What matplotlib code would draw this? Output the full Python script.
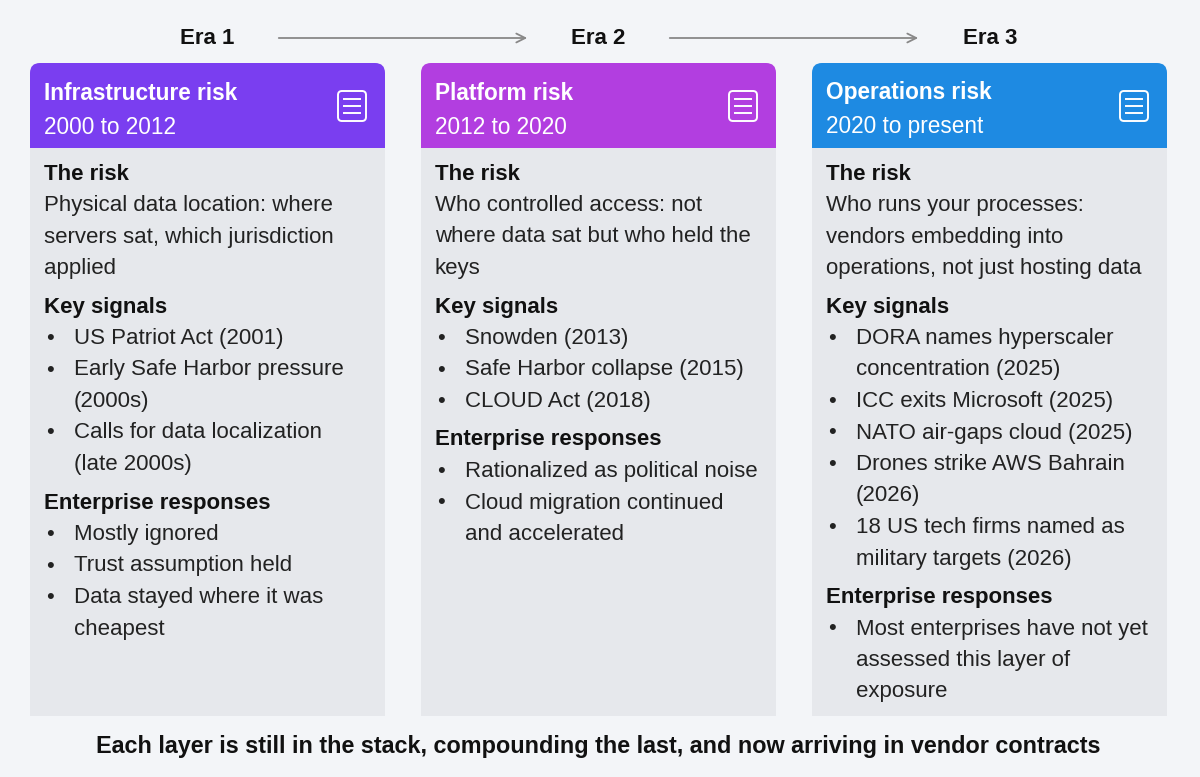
import matplotlib
matplotlib.use("Agg")
import matplotlib.pyplot as plt
from matplotlib.patches import FancyBboxPatch, Rectangle

plt.rcParams['font.family'] = ['Liberation Sans', 'DejaVu Sans']

eras = ["Era 1", "Era 2", "Era 3"]
titles = ["Infrastructure risk", "Platform risk", "Operations risk"]
periods = ["2000 to 2012", "2012 to 2020", "2020 to present"]
header_colors = ["#7a3ef0", "#b23ee0", "#1e8ae2"]
risk_text = [
    ["Physical data location: where", "servers sat, which jurisdiction", "applied"],
    ["Who controlled access: not", "where data sat but who held the", "keys"],
    ["Who runs your processes:", "vendors embedding into", "operations, not just hosting data"],
]
signals = [
    [["US Patriot Act (2001)"], ["Early Safe Harbor pressure", "(2000s)"], ["Calls for data localization", "(late 2000s)"]],
    [["Snowden (2013)"], ["Safe Harbor collapse (2015)"], ["CLOUD Act (2018)"]],
    [["DORA names hyperscaler", "concentration (2025)"], ["ICC exits Microsoft (2025)"], ["NATO air-gaps cloud (2025)"],
     ["Drones strike AWS Bahrain", "(2026)"], ["18 US tech firms named as", "military targets (2026)"]],
]
responses = [
    [["Mostly ignored"], ["Trust assumption held"], ["Data stayed where it was", "cheapest"]],
    [["Rationalized as political noise"], ["Cloud migration continued", "and accelerated"]],
    [["Most enterprises have not yet", "assessed this layer of", "exposure"]],
]
footer = "Each layer is still in the stack, compounding the last, and now arriving in vendor contracts"

fig = plt.figure(figsize=(12, 7.77), dpi=100)
fig.patch.set_facecolor("#f3f5f8")
ax = fig.add_axes([0, 0, 1, 1])
ax.set_xlim(0, 1200); ax.set_ylim(777, 0); ax.axis("off")

FS = 16
xs = [30, 421, 812]
W = 355
era_cx = [207, 598, 990]
for i in range(3):
    ax.text(era_cx[i], 39, eras[i], ha="center", va="center", fontsize=16, fontweight="bold", color="#111")
for x0, x1 in [(276, 530), (667, 921)]:
    ax.annotate("", xy=(x1, 38), xytext=(x0, 38),
                arrowprops=dict(arrowstyle="->", color="#888", lw=1.3, mutation_scale=16))

LH = 31.5
for i in range(3):
    x = xs[i]
    ax.add_patch(Rectangle((x, 140), W, 576, facecolor="#e6e8ec", edgecolor="none"))
    ax.add_patch(FancyBboxPatch((x, 63), W, 85, boxstyle="round,pad=0,rounding_size=10",
                                facecolor=header_colors[i], edgecolor="none", mutation_aspect=1))
    ax.add_patch(Rectangle((x, 120), W, 28, facecolor=header_colors[i], edgecolor="none"))
    ax.text(x + 14, 93, titles[i], fontsize=16.3, fontweight="bold", color="white", va="center")
    ax.text(x + 14, 127, periods[i], fontsize=16.3, color="white", va="center")
    ix, iy = x + 322, 106
    ax.add_patch(FancyBboxPatch((ix - 14, iy - 15), 28, 30, boxstyle="round,pad=0,rounding_size=4",
                                facecolor="none", edgecolor="white", lw=1.4))
    for k in range(3):
        ax.plot([ix - 8, ix + 8], [iy - 7 + 7 * k] * 2, color="white", lw=1.4)

    y = 174
    tx = x + 14
    ax.text(tx, y, "The risk", fontsize=FS, fontweight="bold", color="#111", va="center")
    for line in risk_text[i]:
        y += LH
        ax.text(tx, y, line, fontsize=FS, color="#222", va="center")
    for head, items in [("Key signals", signals[i]), ("Enterprise responses", responses[i])]:
        y += LH + 7
        ax.text(tx, y, head, fontsize=FS, fontweight="bold", color="#111", va="center")
        for item in items:
            for j, line in enumerate(item):
                y += LH
                if j == 0:
                    ax.text(tx + 2, y, "•", fontsize=FS, color="#222", va="center")
                ax.text(tx + 30, y, line, fontsize=FS, color="#222", va="center")

ax.text(598, 746, footer, ha="center", va="center", fontsize=16.8, fontweight="bold", color="#111")
fig.savefig("out.png", dpi=100, facecolor=fig.get_facecolor())
